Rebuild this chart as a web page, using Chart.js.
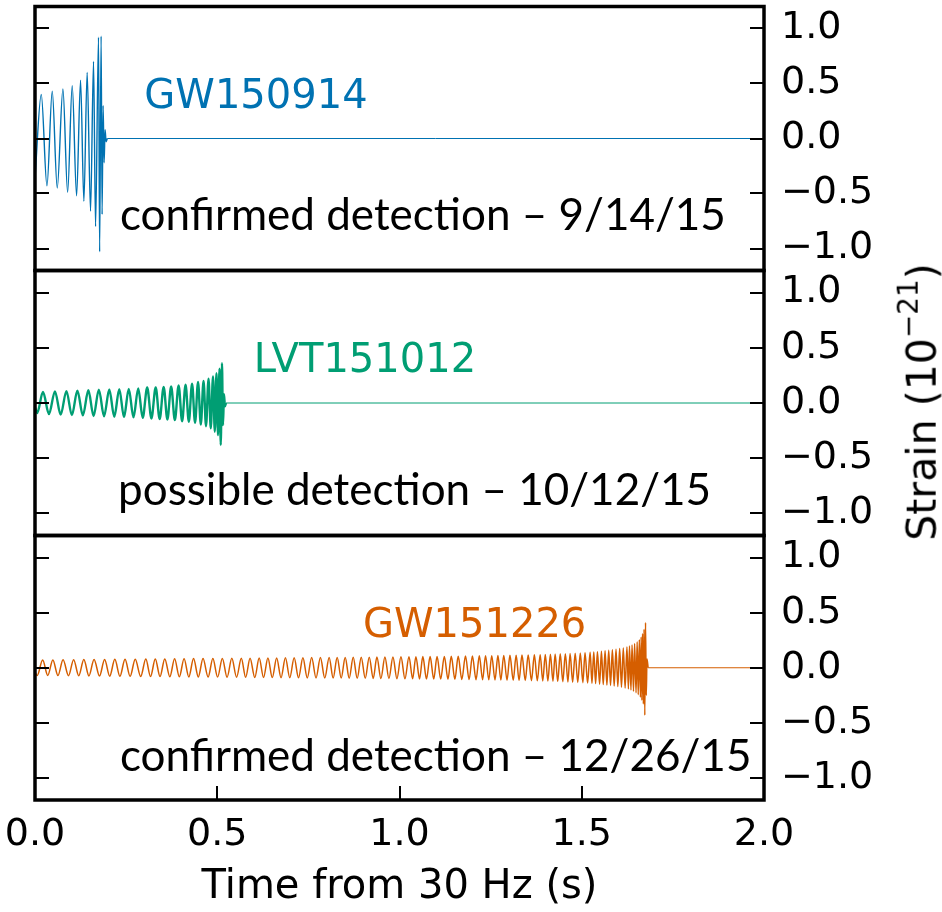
<!DOCTYPE html>
<html>
<head>
<meta charset="utf-8">
<script src="https://cdn.jsdelivr.net/npm/chart.js@4.4.0/dist/chart.umd.min.js"></script>
<style>
  html, body { margin:0; padding:0; background:#fff; }
  #wrap { position:relative; width:942px; height:912px; overflow:hidden; }
  #wrap canvas { position:absolute; left:0; top:0; }
  #strainTitle {
    position:absolute; left:920px; top:402px;
    transform:translate(-50%,-50%) rotate(-90deg);
    font-family:'DejaVu Sans'; font-size:41px; color:#000; white-space:nowrap; line-height:1;
  }
  #strainTitle sup { font-size:0.68em; position:relative; top:-0.1em; }
</style>
</head>
<body>
<div id="wrap">
  <canvas id="c1" width="942" height="912"></canvas>
  <canvas id="c2" width="942" height="912"></canvas>
  <canvas id="c3" width="942" height="912"></canvas>
  <div id="strainTitle">Strain (10<sup>&minus;21</sup>)</div>
</div>
<script>
/* ---- axes ---- */
const timeTicks   = [0, 0.5, 1.0, 1.5, 2.0];
const strainTicks = [-1.0, -0.5, 0.0, 0.5, 1.0];

/* ---- GW150914 : peaks / troughs (s, 1e-21) ---- */
const gw150914Time = [0.0000, 0.0172, 0.0328, 0.0473, 0.0610, 0.0766, 0.0895, 0.1021, 0.1141, 0.1250,
  0.1341, 0.1431, 0.1524, 0.1606, 0.1661, 0.1743, 0.1773, 0.1814, 0.1841, 0.1869,
  0.1896, 0.1923, 0.1951, 0.1984];
const gw150914Strain = [-0.36, 0.40, -0.43, 0.43, -0.45, 0.45, -0.49, 0.48, -0.52, 0.53,
  -0.57, 0.60, -0.66, 0.70, -0.80, 0.92, -1.03, 0.93, -0.69, 0.30,
  -0.22, 0.08, -0.03, 0.00];

/* ---- LVT151012 ---- */
const lvt151012Time = [0.0000, 0.0060, 0.0219, 0.0383, 0.0547, 0.0704, 0.0862, 0.1012, 0.1163, 0.1313,
  0.1464, 0.1607, 0.1751, 0.1895, 0.2038, 0.2175, 0.2312, 0.2442, 0.2572, 0.2702,
  0.2832, 0.2955, 0.3078, 0.3194, 0.3311, 0.3420, 0.3530, 0.3632, 0.3735, 0.3837,
  0.3940, 0.4036, 0.4131, 0.4220, 0.4309, 0.4391, 0.4473, 0.4549, 0.4624, 0.4692,
  0.4761, 0.4822, 0.4884, 0.4932, 0.4979, 0.5021, 0.5062, 0.5096, 0.5130, 0.5157,
  0.5185, 0.5212, 0.5240];
const lvt151012Strain = [-0.04, -0.09, 0.100, -0.100, 0.105, -0.105, 0.108, -0.110, 0.112, -0.112,
  0.115, -0.118, 0.120, -0.120, 0.122, -0.125, 0.125, -0.128, 0.128, -0.130,
  0.132, -0.135, 0.140, -0.140, 0.140, -0.145, 0.145, -0.150, 0.150, -0.155,
  0.160, -0.165, 0.165, -0.170, 0.175, -0.180, 0.190, -0.195, 0.200, -0.210,
  0.220, -0.230, 0.240, -0.260, 0.270, -0.290, 0.310, -0.380, 0.360, -0.200,
  0.080, -0.030, 0.000];

/* ---- GW151226 ---- */
const gw151226Time = [0.000, 0.006, 0.021, 0.035, 0.049, 0.063, 0.077, 0.092, 0.106, 0.120,
  0.134, 0.148, 0.162, 0.177, 0.191, 0.205, 0.219, 0.233, 0.247, 0.261,
  0.275, 0.290, 0.304, 0.317, 0.330, 0.343, 0.356, 0.370, 0.383, 0.396,
  0.409, 0.422, 0.435, 0.448, 0.461, 0.475, 0.488, 0.501, 0.514, 0.527,
  0.540, 0.553, 0.566, 0.578, 0.590, 0.603, 0.615, 0.627, 0.639, 0.651,
  0.663, 0.675, 0.687, 0.699, 0.711, 0.723, 0.735, 0.747, 0.759, 0.771,
  0.783, 0.795, 0.807, 0.818, 0.829, 0.840, 0.851, 0.862, 0.873, 0.884,
  0.895, 0.906, 0.917, 0.928, 0.938, 0.949, 0.960, 0.971, 0.982, 0.993,
  1.004, 1.015, 1.026, 1.036, 1.045, 1.055, 1.064, 1.074, 1.084, 1.094,
  1.103, 1.113, 1.123, 1.133, 1.142, 1.152, 1.161, 1.171, 1.181, 1.191,
  1.200, 1.210, 1.219, 1.228, 1.236, 1.245, 1.253, 1.262, 1.270, 1.278,
  1.286, 1.295, 1.303, 1.312, 1.320, 1.328, 1.336, 1.345, 1.353, 1.362,
  1.370, 1.378, 1.386, 1.393, 1.400, 1.407, 1.414, 1.421, 1.427, 1.434,
  1.441, 1.448, 1.455, 1.462, 1.468, 1.475, 1.482, 1.489, 1.496, 1.503,
  1.509, 1.516, 1.523, 1.528, 1.533, 1.538, 1.543, 1.549, 1.554, 1.559,
  1.564, 1.569, 1.574, 1.579, 1.584, 1.589, 1.594, 1.599, 1.604, 1.609,
  1.614, 1.619, 1.624, 1.628, 1.631, 1.635, 1.638, 1.642, 1.645, 1.649,
  1.652, 1.655, 1.658, 1.661, 1.663, 1.665, 1.667, 1.669, 1.671, 1.673,
  1.675, 1.677, 1.679, 1.682];
const gw151226Strain = [-0.040, -0.070, 0.070, -0.070, 0.071, -0.071, 0.072, -0.072, 0.073, -0.073,
  0.074, -0.074, 0.075, -0.075, 0.075, -0.076, 0.076, -0.077, 0.077, -0.078,
  0.078, -0.079, 0.079, -0.080, 0.080, -0.080, 0.080, -0.081, 0.081, -0.082,
  0.082, -0.083, 0.083, -0.083, 0.083, -0.084, 0.084, -0.085, 0.085, -0.086,
  0.086, -0.086, 0.086, -0.087, 0.087, -0.088, 0.088, -0.088, 0.088, -0.089,
  0.089, -0.090, 0.090, -0.090, 0.090, -0.091, 0.091, -0.092, 0.092, -0.092,
  0.092, -0.093, 0.093, -0.094, 0.094, -0.094, 0.094, -0.095, 0.095, -0.096,
  0.096, -0.096, 0.096, -0.097, 0.097, -0.098, 0.098, -0.098, 0.098, -0.099,
  0.099, -0.100, 0.100, -0.100, 0.100, -0.101, 0.101, -0.102, 0.102, -0.103,
  0.103, -0.103, 0.103, -0.104, 0.104, -0.105, 0.105, -0.106, 0.106, -0.107,
  0.107, -0.108, 0.108, -0.109, 0.109, -0.110, 0.110, -0.111, 0.111, -0.112,
  0.112, -0.113, 0.113, -0.114, 0.114, -0.115, 0.115, -0.116, 0.116, -0.117,
  0.118, -0.118, 0.119, -0.120, 0.121, -0.121, 0.122, -0.123, 0.124, -0.125,
  0.126, -0.127, 0.128, -0.129, 0.130, -0.131, 0.132, -0.133, 0.134, -0.135,
  0.137, -0.138, 0.140, -0.141, 0.143, -0.144, 0.146, -0.148, 0.150, -0.152,
  0.154, -0.156, 0.158, -0.160, 0.163, -0.165, 0.168, -0.171, 0.174, -0.177,
  0.180, -0.184, 0.188, -0.192, 0.197, -0.202, 0.207, -0.213, 0.220, -0.227,
  0.235, -0.245, 0.255, -0.268, 0.280, -0.295, 0.310, -0.330, 0.350, -0.430,
  0.410, -0.250, 0.080, 0.000];

const fmt1 = v => (v < 0 ? '\u2212' : '') + Math.abs(v).toFixed(1);

// frame, inward ticks and the in-panel annotations
function panelDeco(labels, showX) {
  return {
    id: 'panelDeco',
    afterDatasetsDraw(chart) {
      const { ctx, chartArea: a, scales: { x, y } } = chart;
      ctx.save();
      ctx.strokeStyle = '#000';
      ctx.lineWidth = 2;
      ctx.beginPath();
      strainTicks.forEach(v => {
        const py = Math.round(y.getPixelForValue(v));
        ctx.moveTo(a.left, py); ctx.lineTo(a.left + 14, py);
        ctx.moveTo(a.right - 14, py); ctx.lineTo(a.right, py);
      });
      if (showX) {
        timeTicks.slice(1, -1).forEach(v => {
          const px = Math.round(x.getPixelForValue(v));
          ctx.moveTo(px, a.bottom); ctx.lineTo(px, a.bottom - 14);
        });
      }
      ctx.stroke();
      ctx.lineWidth = 3.5;
      ctx.strokeRect(a.left, a.top, a.right - a.left, a.bottom - a.top);

      ctx.textAlign = 'left';
      ctx.textBaseline = 'alphabetic';
      labels.forEach(l => {
        ctx.font = l.font;
        ctx.fillStyle = l.color;
        ctx.fillText(l.text, x.getPixelForValue(l.x), y.getPixelForValue(l.y));
      });
      ctx.restore();
    }
  };
}

function makePanel(id, p) {
  const wave = p.time.map((t, i) => ({ x: t, y: p.strain[i] }));
  const tail = [{ x: p.time[p.time.length - 1], y: 0 }, { x: 2.0, y: 0 }];
  return new Chart(document.getElementById(id), {
    type: 'line',
    data: {
      datasets: [
        { data: wave, borderColor: p.color, borderWidth: p.lw, pointRadius: 0,
          cubicInterpolationMode: 'monotone', fill: false },
        { data: tail, borderColor: p.color, borderWidth: 1, pointRadius: 0, fill: false },
      ],
    },
    options: {
      responsive: false, animation: false, devicePixelRatio: 1,
      layout: { padding: { left: 35, right: 0, top: p.top, bottom: p.showX ? 0 : 912 - p.bottom } },
      plugins: { legend: { display: false }, tooltip: { enabled: false } },
      scales: {
        x: { type: 'linear', min: 0, max: 2, display: p.showX,
             grid: { display: false, drawTicks: false }, border: { display: false },
             afterBuildTicks: s => { s.ticks = timeTicks.map(v => ({ value: v })); },
             afterFit: s => { s.height = p.showX ? 112 : 0; s.paddingLeft = 0; s.paddingRight = 0; },
             ticks: { font: { family: 'DejaVu Sans', size: 38 }, color: '#000', padding: 12,
                      maxRotation: 0, autoSkip: false, callback: v => fmt1(v) },
             title: { display: true, text: 'Time from 30 Hz (s)', color: '#000',
                      font: { family: 'DejaVu Sans', size: 40 }, padding: { top: 0, bottom: 0 } } },
        y: { position: 'right', min: -1.2, max: 1.2,
             grid: { display: false, drawTicks: false }, border: { display: false },
             afterBuildTicks: s => { s.ticks = strainTicks.map(v => ({ value: v })); },
             afterFit: s => { s.width = 178; s.paddingTop = 0; s.paddingBottom = 0; },
             ticks: { font: { family: 'DejaVu Sans', size: 38 }, color: '#000', padding: 17,
                      autoSkip: false, callback: v => fmt1(v) } },
      },
    },
    plugins: [panelDeco(p.labels, p.showX)],
  });
}

const labelFont = '40px "DejaVu Sans"';
const noteFont  = '44px Lato';

makePanel('c1', {
  time: gw150914Time, strain: gw150914Strain, color: '#0072B2', lw: 1.4,
  top: 6.5, bottom: 270.5, showX: false,
  labels: [
    { text: 'GW150914', x: 0.30, y: 0.28, color: '#0072B2', font: labelFont },
    { text: 'confirmed detection \u2013 9/14/15', x: 0.233, y: -0.83, color: '#000', font: noteFont },
  ],
});
makePanel('c2', {
  time: lvt151012Time, strain: lvt151012Strain, color: '#009E73', lw: 2.4,
  top: 270.5, bottom: 535.5, showX: false,
  labels: [
    { text: 'LVT151012', x: 0.60, y: 0.28, color: '#009E73', font: labelFont },
    { text: 'possible detection \u2013 10/12/15', x: 0.228, y: -0.92, color: '#000', font: noteFont },
  ],
});
makePanel('c3', {
  time: gw151226Time, strain: gw151226Strain, color: '#D55E00', lw: 1.5,
  top: 535.5, bottom: 800, showX: true,
  labels: [
    { text: 'GW151226', x: 0.90, y: 0.28, color: '#D55E00', font: labelFont },
    { text: 'confirmed detection \u2013 12/26/15', x: 0.233, y: -0.94, color: '#000', font: noteFont },
  ],
});
</script>
</body>
</html>
